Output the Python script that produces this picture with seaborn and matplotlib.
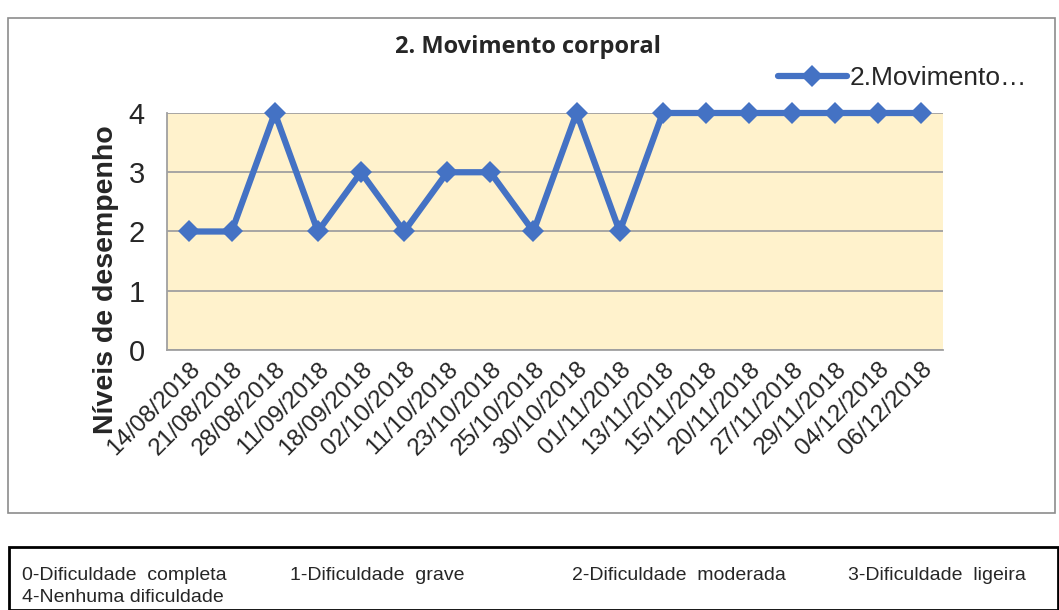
import numpy as np
import pandas as pd
import matplotlib
matplotlib.use("Agg")
import matplotlib.pyplot as plt
from matplotlib.patches import Rectangle
import seaborn as sns

# dados
datas = ["14/08/2018", "21/08/2018", "28/08/2018", "11/09/2018", "18/09/2018",
         "02/10/2018", "11/10/2018", "23/10/2018", "25/10/2018", "30/10/2018",
         "01/11/2018", "13/11/2018", "15/11/2018", "20/11/2018", "27/11/2018",
         "29/11/2018", "04/12/2018", "06/12/2018"]
niveis = [2, 2, 4, 2, 3, 2, 3, 3, 2, 4, 2, 4, 4, 4, 4, 4, 4, 4]
serie = "2.Movimento…"
titulo = "2. Movimento corporal"
legenda_niveis = ["0-Dificuldade  completa", "1-Dificuldade  grave",
                  "2-Dificuldade  moderada", "3-Dificuldade  ligeira",
                  "4-Nenhuma dificuldade"]

sns.set_theme(style="white")
plt.rcParams["font.family"] = ["Liberation Sans", "DejaVu Sans"]

W, H = 1059, 610
fig = plt.figure(figsize=(W / 100, H / 100), dpi=100)

# moldura do gráfico e caixa da legenda de níveis
fig.patches.append(Rectangle((8 / W, 1 - 513 / H), 1047 / W, 495 / H, transform=fig.transFigure,
                             fill=False, edgecolor="#8c8c8c", linewidth=1.2))
fig.patches.append(Rectangle((9 / W, 0), 1049 / W, 63 / H, transform=fig.transFigure,
                             fill=False, edgecolor="black", linewidth=2))

left, right, top, bottom = 167, 943, 113, 350
ax = fig.add_axes([left / W, 1 - bottom / H, (right - left) / W, (bottom - top) / H])

df = pd.DataFrame({"data": datas, "nivel": niveis})
x = np.arange(len(datas))
sns.lineplot(x=x, y=df["nivel"], ax=ax, color="#4472C4", linewidth=4.5,
             marker="D", markersize=11, markeredgewidth=0, label=serie, zorder=3)
for ln in ax.lines:
    ln.set_clip_on(False)

ax.set_facecolor("#FFF2CC")
ax.set_xlim(-0.5, len(datas) - 0.5)
ax.set_ylim(0, 4)
ax.set_yticks([0, 1, 2, 3, 4])
ax.yaxis.grid(True, color="#a0a0a0", linewidth=1.3)
ax.set_axisbelow(True)
for s in ["top", "right"]:
    ax.spines[s].set_visible(False)
for s in ["left", "bottom"]:
    ax.spines[s].set_color("#a0a0a0")
    ax.spines[s].set_linewidth(1.3)

ax.set_xticks(x)
ax.set_xticklabels(datas, rotation=45, ha="right", rotation_mode="anchor", fontsize=17.5)
ax.tick_params(axis="x", length=0, pad=6)
ax.tick_params(axis="y", length=0, pad=16, labelsize=21)
ax.set_xlabel("")
ax.set_ylabel("")

fig.text(106 / W, 1 - 280 / H, "Níveis de desempenho", rotation=90, ha="center", va="center",
         fontsize=20.5, fontweight="bold")
fig.text(528 / W, 1 - 47 / H, titulo, ha="center", va="center", fontsize=17,
         fontweight="bold", family=["Open Sans", "DejaVu Sans"])

ax.legend(loc="center left", bbox_to_anchor=(778 / W, 1 - 78 / H), bbox_transform=fig.transFigure,
          frameon=False, fontsize=19, handlelength=2.6, handletextpad=0.1, borderpad=0, borderaxespad=0)

xs = [22, 290, 572, 848]
for xp, txt in zip(xs, legenda_niveis[:4]):
    fig.text(xp / W, 1 - 575 / H, txt, ha="left", va="center", fontsize=14)
fig.text(22 / W, 1 - 597 / H, legenda_niveis[4], ha="left", va="center", fontsize=14)

fig.savefig("out.png", dpi=100, facecolor="white")
